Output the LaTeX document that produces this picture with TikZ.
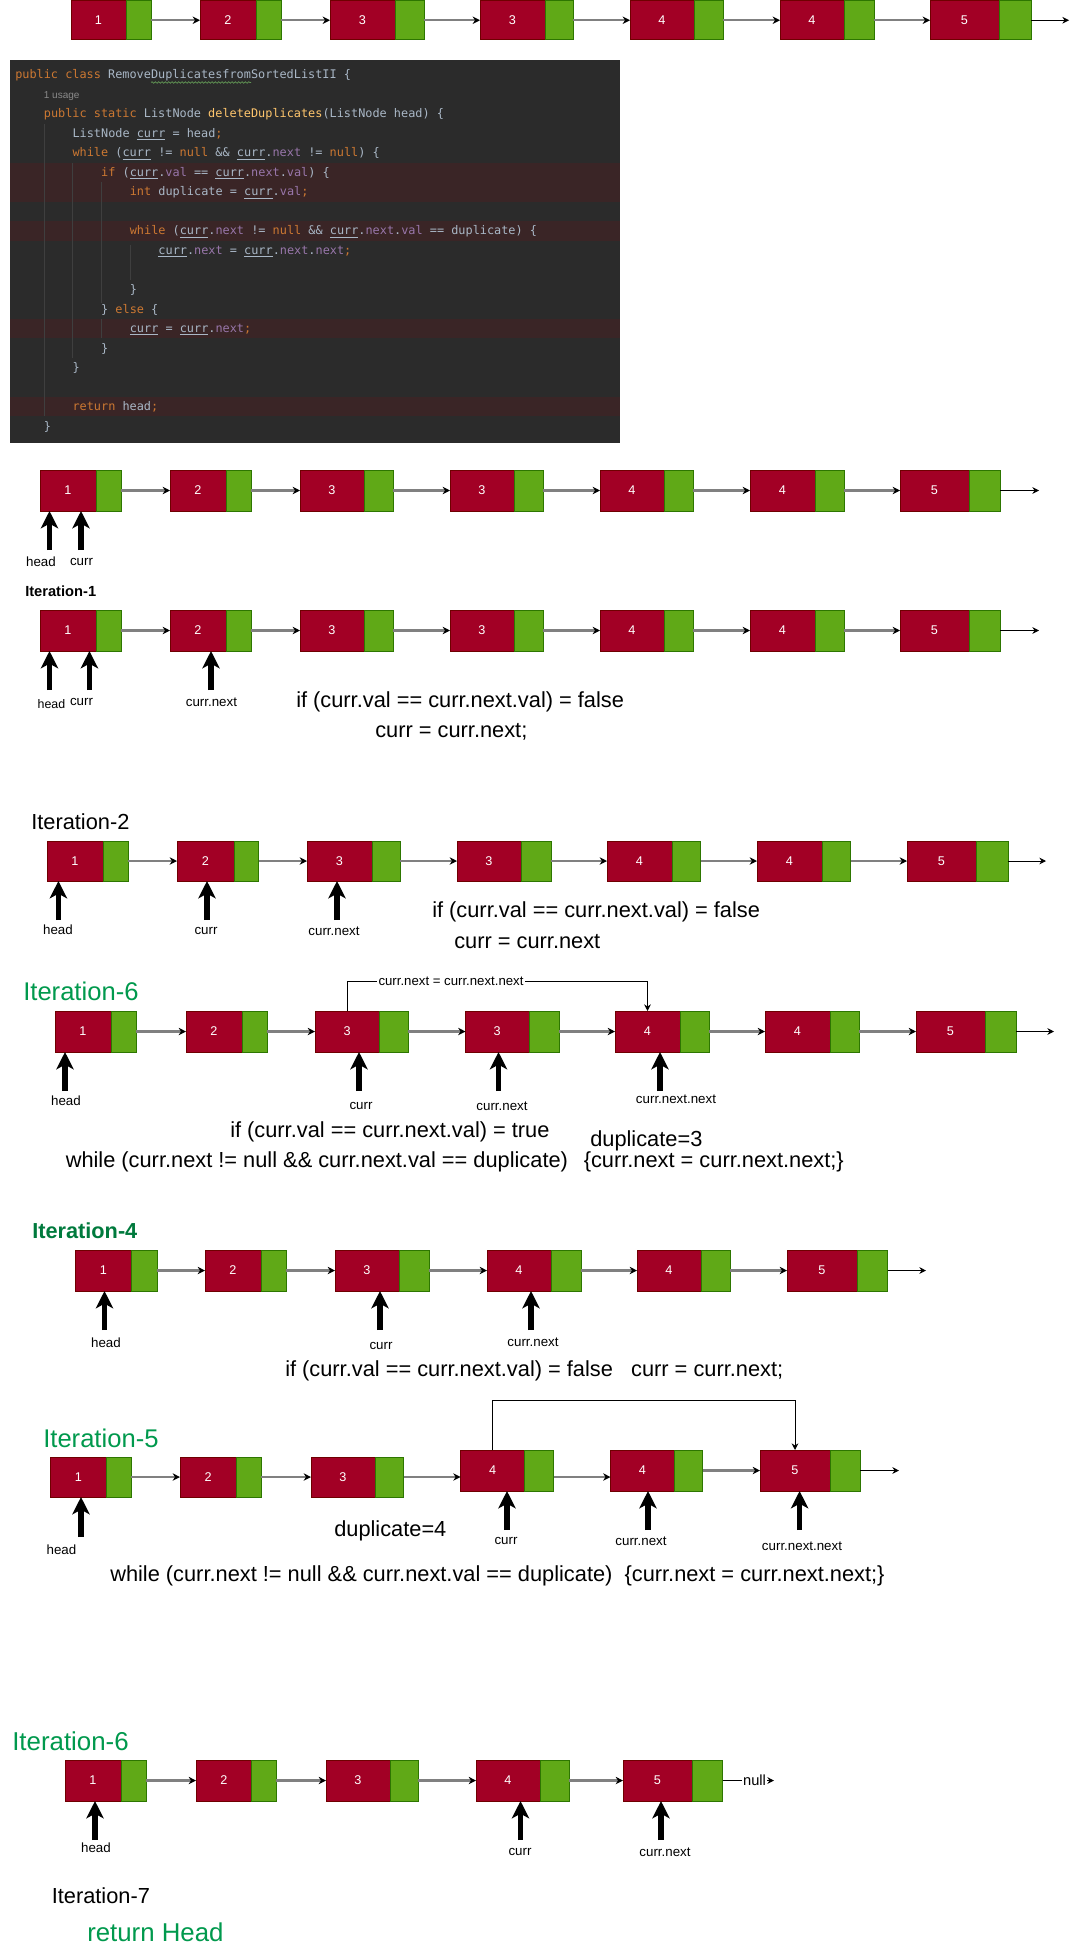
\documentclass[tikz,border=0pt]{standalone}
\usepackage{fontspec}
\setmainfont{Liberation Sans}
\newfontfamily\codefont{DejaVu Sans Mono}
\usetikzlibrary{arrows.meta,decorations.pathmorphing}
\definecolor{nred}{HTML}{A20025}
\definecolor{nredline}{HTML}{6F0000}
\definecolor{ngreen}{HTML}{60A917}
\definecolor{ngreenline}{HTML}{2D7600}
\definecolor{linkgray}{HTML}{808080}
\definecolor{itgreen}{HTML}{00994D}
\definecolor{itdgreen}{HTML}{007A3D}
\definecolor{codebg}{HTML}{2B2B2B}
\definecolor{codeband}{HTML}{3A2526}
\definecolor{ckw}{HTML}{CC7832}
\definecolor{ctxt}{HTML}{A9B7C6}
\definecolor{cfn}{HTML}{FFC66D}
\definecolor{cfld}{HTML}{9876AA}
\definecolor{cusage}{HTML}{8A8A8A}
\definecolor{cguide}{HTML}{3F3F3F}
\definecolor{ctypo}{HTML}{629755}
\newcommand\KW[1]{\textcolor{ckw}{#1}}
\newcommand\FD[1]{\textcolor{cfld}{#1}}
\newcommand\FN[1]{\textcolor{cfn}{#1}}
\newcommand\CU{\underline{curr}}
\newcommand\listnode[7]{%
  \pgfmathsetmacro\lnwa{(#3-#2)*0.75}%
  \pgfmathsetmacro\lnwb{(#4-#3)*0.75}%
  \pgfmathsetmacro\lnh{(#6-#5)*0.75}%
  \node[redbox,minimum width=\lnwa pt,minimum height=\lnh pt,anchor=north west] (#1r) at (#2,#5) {#7};
  \node[greenbox,minimum width=\lnwb pt,minimum height=\lnh pt,anchor=north west] (#1g) at (#3,#5) {};
}
\tikzset{
  redbox/.style={draw=nredline, fill=nred, line width=0.75pt, inner sep=0pt, outer sep=0pt, text=white, font=\fontsize{9.5}{11}\selectfont},
  greenbox/.style={draw=ngreenline, fill=ngreen, line width=0.75pt, inner sep=0pt, outer sep=0pt},
  link/.style={draw=linkgray, line width=1.6pt, -{Stealth[length=5.5pt,width=5.5pt,color=black]}},
  outlink/.style={draw=black, line width=0.75pt, -{Stealth[length=5pt,width=5pt]}},
  bypass/.style={draw=black, line width=0.75pt, -{Stealth[length=5pt,width=5pt]}},
  ptr/.style={draw=black, line width=4pt, -{Stealth[length=13pt,width=13pt,inset=3.5pt]}},
  lbl/.style={inner sep=0pt, font=\fontsize{10}{12}\selectfont},
  stmt/.style={inner sep=0pt, anchor=west, font=\fontsize{16.35}{19}\selectfont},
  codeline/.style={inner sep=0pt, anchor=base west, text=ctxt, font=\codefont\fontsize{8.9}{10}\selectfont},
  guide/.style={draw=cguide, line width=0.75pt},
}
\begin{document}
\begin{tikzpicture}[x=0.75pt,y=-0.75pt]
\useasboundingbox (0,0) rectangle (1078,1951);
\fill[white] (0,0) rectangle (1078,1951);

% ---------------- Row 0 ----------------
\listnode{A1}{71}{126}{151}{0.5}{40}{1}
\listnode{A2}{200}{256}{281}{0.5}{40}{2}
\listnode{A3}{330}{395}{424}{0.5}{40}{3}
\listnode{A4}{480}{545}{573}{0.5}{40}{3}
\listnode{A5}{630}{694}{723}{0.5}{40}{4}
\listnode{A6}{780}{844}{874}{0.5}{40}{4}
\listnode{A7}{930}{999}{1031}{0.5}{40}{5}
\coordinate (A8) at (1069,20.25);
\draw[link] (A1g.east) -- (A2r.west);
\draw[link] (A2g.east) -- (A3r.west);
\draw[link] (A3g.east) -- (A4r.west);
\draw[link] (A4g.east) -- (A5r.west);
\draw[link] (A5g.east) -- (A6r.west);
\draw[link] (A6g.east) -- (A7r.west);
\draw[outlink] (A7g.east) -- (A8);

% ---------------- Code block ----------------
\fill[codebg] (10,60) rectangle (620,443);
\fill[codeband] (10,162.75) rectangle (620,201.75);
\fill[codeband] (10,221.25) rectangle (620,240.75);
\fill[codeband] (10,318.75) rectangle (620,338.25);
\fill[codeband] (10,396.75) rectangle (620,416.25);
\draw[guide] (44,124) -- (44,416);
\draw[guide] (72.5,163) -- (72.5,358);
\draw[guide] (101,182) -- (101,303);
\draw[guide] (101,319) -- (101,338);
\draw[guide] (130,245) -- (130,280);
\node[codeline] (c0) at (15,79) {\KW{public class} RemoveDuplicatesfromSortedListII \{};
\draw[ctypo, line width=0.5pt, decorate, decoration={snake, amplitude=0.6pt, segment length=2.5pt}] (151,82.5) -- (251,82.5);
\node[anchor=base west, inner sep=0pt, text=cusage, font=\fontsize{7.5}{9}\selectfont] (c1) at (43.6,98.5) {1 usage};
\node[codeline] (c2) at (43.64,118) {\KW{public static} ListNode \FN{deleteDuplicates}(ListNode head) \{};
\node[codeline] (c3) at (72.28,137.5) {ListNode \CU{} = head\KW{;}};
\node[codeline] (c4) at (72.28,157) {\KW{while} (\CU{} != \KW{null} \&\& \CU.\FD{next} != \KW{null}) \{};
\node[codeline] (c5) at (100.92,176.5) {\KW{if} (\CU.\FD{val} == \CU.\FD{next}.\FD{val}) \{};
\node[codeline] (c6) at (129.56,196) {\KW{int} duplicate = \CU.\FD{val}\KW{;}};
\node[codeline] (c8) at (129.56,235) {\KW{while} (\CU.\FD{next} != \KW{null} \&\& \CU.\FD{next}.\FD{val} == duplicate) \{};
\node[codeline] (c9) at (158.2,254.5) {\CU.\FD{next} = \CU.\FD{next}.\FD{next}\KW{;}};
\node[codeline] (c11) at (129.56,293.5) {\}};
\node[codeline] (c12) at (100.92,313) {\} \KW{else} \{};
\node[codeline] (c13) at (129.56,332.5) {\CU{} = \CU.\FD{next}\KW{;}};
\node[codeline] (c14) at (100.92,352) {\}};
\node[codeline] (c15) at (72.28,371.5) {\}};
\node[codeline] (c17) at (72.28,410.5) {\KW{return} head\KW{;}};
\node[codeline] (c18) at (43.64,430) {\}};

% ---------------- Row 1 ----------------
\listnode{B1}{40}{96}{121}{470}{511}{1}
\listnode{B2}{170}{226}{251}{470}{511}{2}
\listnode{B3}{300}{364}{393}{470}{511}{3}
\listnode{B4}{450}{514}{543}{470}{511}{3}
\listnode{B5}{600}{664}{693}{470}{511}{4}
\listnode{B6}{750}{815}{844}{470}{511}{4}
\listnode{B7}{900}{969}{1000}{470}{511}{5}
\coordinate (B8) at (1039,490.5);
\draw[link] (B1g.east) -- (B2r.west);
\draw[link] (B2g.east) -- (B3r.west);
\draw[link] (B3g.east) -- (B4r.west);
\draw[link] (B4g.east) -- (B5r.west);
\draw[link] (B5g.east) -- (B6r.west);
\draw[link] (B6g.east) -- (B7r.west);
\draw[outlink] (B7g.east) -- (B8);
\coordinate (Bp1) at (49.5,550);
\coordinate (Bp2) at (81,550);
\draw[ptr] (Bp1) -- (Bp1 |- B1r.south);
\draw[ptr] (Bp2) -- (Bp2 |- B1r.south);
\node[lbl] (Bl1) at (41,562) {head};
\node[lbl] (Bl2) at (81.5,562) {curr};

% ---------------- Row 2 : Iteration-1 ----------------
\node[anchor=west, inner sep=0pt, font=\bfseries\fontsize{11}{13}\selectfont] (T1) at (25,591) {Iteration-1};
\listnode{C1}{40}{96}{121}{610}{651}{1}
\listnode{C2}{170}{226}{251}{610}{651}{2}
\listnode{C3}{300}{364}{393}{610}{651}{3}
\listnode{C4}{450}{514}{543}{610}{651}{3}
\listnode{C5}{600}{664}{693}{610}{651}{4}
\listnode{C6}{750}{815}{844}{610}{651}{4}
\listnode{C7}{900}{969}{1000}{610}{651}{5}
\coordinate (C8) at (1039,630.5);
\draw[link] (C1g.east) -- (C2r.west);
\draw[link] (C2g.east) -- (C3r.west);
\draw[link] (C3g.east) -- (C4r.west);
\draw[link] (C4g.east) -- (C5r.west);
\draw[link] (C5g.east) -- (C6r.west);
\draw[link] (C6g.east) -- (C7r.west);
\draw[outlink] (C7g.east) -- (C8);
\coordinate (Cp1) at (49.5,690);
\coordinate (Cp2) at (89.4,690);
\coordinate (Cp3) at (211,690);
\draw[ptr] (Cp1) -- (Cp1 |- C1r.south);
\draw[ptr] (Cp2) -- (Cp2 |- C1r.south);
\draw[ptr] (Cp3) -- (Cp3 |- C2r.south);
\node[lbl, font=\fontsize{9.3}{11}\selectfont] (Cl1) at (51.5,704) {head};
\node[lbl] (Cl2) at (81.5,702) {curr};
\node[lbl] (Cl3) at (211.4,702) {curr.next};
\node[stmt] (Cs1) at (296,702) {if (curr.val == curr.next.val) = false};
\node[stmt] (Cs2) at (375,732) {curr = curr.next;};

% ---------------- Row 3 : Iteration-2 ----------------
\node[anchor=west, inner sep=0pt, font=\fontsize{16.35}{19}\selectfont] (T2) at (31,822) {Iteration-2};
\listnode{D1}{47}{103}{128}{841}{881}{1}
\listnode{D2}{177}{234}{258.5}{841}{881}{2}
\listnode{D3}{307}{372}{400}{841}{881}{3}
\listnode{D4}{457}{521}{551}{841}{881}{3}
\listnode{D5}{607}{672}{700.6}{841}{881}{4}
\listnode{D6}{757}{822}{850.5}{841}{881}{4}
\listnode{D7}{907}{976}{1008}{841}{881}{5}
\coordinate (D8) at (1046,861);
\draw[link] (D1g.east) -- (D2r.west);
\draw[link] (D2g.east) -- (D3r.west);
\draw[link] (D3g.east) -- (D4r.west);
\draw[link] (D4g.east) -- (D5r.west);
\draw[link] (D5g.east) -- (D6r.west);
\draw[link] (D6g.east) -- (D7r.west);
\draw[outlink] (D7g.east) -- (D8);
\coordinate (Dp1) at (58.4,920);
\coordinate (Dp2) at (207,920);
\coordinate (Dp3) at (337,920);
\draw[ptr] (Dp1) -- (Dp1 |- D1r.south);
\draw[ptr] (Dp2) -- (Dp2 |- D2r.south);
\draw[ptr] (Dp3) -- (Dp3 |- D3r.south);
\node[lbl] (Dl1) at (58,930) {head};
\node[lbl] (Dl2) at (206,931) {curr};
\node[lbl] (Dl3) at (334,931) {curr.next};
\node[stmt] (Ds1) at (432,912) {if (curr.val == curr.next.val) = false};
\node[stmt] (Ds2) at (454,942) {curr = curr.next};

% ---------------- Row 4 : Iteration-6 (first) ----------------
\node[anchor=west, inner sep=0pt, text=itgreen, font=\fontsize{19.2}{22}\selectfont] (T3) at (23,991) {Iteration-6};
\listnode{E1}{55}{111}{136}{1011}{1052}{1}
\listnode{E2}{186}{242}{267}{1011}{1052}{2}
\listnode{E3}{315}{379.5}{408}{1011}{1052}{3}
\listnode{E4}{465.5}{529}{559}{1011}{1052}{3}
\listnode{E5}{615}{680}{709}{1011}{1052}{4}
\listnode{E6}{765}{830}{859}{1011}{1052}{4}
\listnode{E7}{916}{985}{1016}{1011}{1052}{5}
\coordinate (E8) at (1054,1031.5);
\draw[link] (E1g.east) -- (E2r.west);
\draw[link] (E2g.east) -- (E3r.west);
\draw[link] (E3g.east) -- (E4r.west);
\draw[link] (E4g.east) -- (E5r.west);
\draw[link] (E5g.east) -- (E6r.west);
\draw[link] (E6g.east) -- (E7r.west);
\draw[outlink] (E7g.east) -- (E8);
\coordinate (Ebyp) at (0,981);
\draw[bypass] (E3r.north) -- (E3r.north |- Ebyp) -- (E5r.north |- Ebyp) -- (E5r.north);
\node[inner sep=1pt, fill=white, font=\fontsize{9.9}{12}\selectfont] (Ebl) at (451,981) {curr.next = curr.next.next};
\coordinate (Ep1) at (65,1091);
\coordinate (Ep2) at (359,1091);
\coordinate (Ep3) at (498.5,1091);
\coordinate (Ep4) at (660,1091);
\draw[ptr] (Ep1) -- (Ep1 |- E1r.south);
\draw[ptr] (Ep2) -- (Ep2 |- E3r.south);
\draw[ptr] (Ep3) -- (Ep3 |- E4r.south);
\draw[ptr] (Ep4) -- (Ep4 |- E5r.south);
\node[lbl] (El1) at (66,1101) {head};
\node[lbl] (El2) at (361,1106) {curr};
\node[lbl] (El3) at (502,1106) {curr.next};
\node[lbl] (El4) at (676,1099) {curr.next.next};
\node[stmt] (Es1) at (230,1132) {if (curr.val == curr.next.val) = true};
\node[stmt] (Es2) at (590,1141) {duplicate=3};
\node[stmt] (Es3) at (65.5,1162) {while (curr.next != null \&\& curr.next.val == duplicate)};
\node[stmt] (Es4) at (583.5,1162) {\{curr.next = curr.next.next;\}};

% ---------------- Row 5 : Iteration-4 ----------------
\node[anchor=west, inner sep=0pt, text=itdgreen, font=\bfseries\fontsize{16.3}{19}\selectfont] (T4) at (32,1231) {Iteration-4};
\listnode{F1}{75.6}{131}{157}{1250}{1291}{1}
\listnode{F2}{205}{261}{286}{1250}{1291}{2}
\listnode{F3}{335}{399}{429}{1250}{1291}{3}
\listnode{F4}{487}{551}{581}{1250}{1291}{4}
\listnode{F5}{637}{701}{730}{1250}{1291}{4}
\listnode{F6}{787}{857}{887.6}{1250}{1291}{5}
\coordinate (F7) at (926,1270.5);
\draw[link] (F1g.east) -- (F2r.west);
\draw[link] (F2g.east) -- (F3r.west);
\draw[link] (F3g.east) -- (F4r.west);
\draw[link] (F4g.east) -- (F5r.west);
\draw[link] (F5g.east) -- (F6r.west);
\draw[outlink] (F6g.east) -- (F7);
\coordinate (Fp1) at (104.5,1330);
\coordinate (Fp2) at (380,1330);
\coordinate (Fp3) at (531,1330);
\draw[ptr] (Fp1) -- (Fp1 |- F1r.south);
\draw[ptr] (Fp2) -- (Fp2 |- F3r.south);
\draw[ptr] (Fp3) -- (Fp3 |- F4r.south);
\node[lbl] (Fl1) at (106,1343) {head};
\node[lbl] (Fl2) at (381,1346) {curr};
\node[lbl] (Fl3) at (533,1342) {curr.next};
\node[stmt] (Fs1) at (285,1371) {if (curr.val == curr.next.val) = false\ \ \ curr = curr.next;};

% ---------------- Row 6 : Iteration-5 ----------------
\node[anchor=west, inner sep=0pt, text=itgreen, font=\fontsize{19.2}{22}\selectfont] (T5) at (43,1438) {Iteration-5};
\listnode{G1}{50}{106.6}{131}{1457}{1497}{1}
\listnode{G2}{180}{236.5}{261}{1457}{1497}{2}
\listnode{G3}{311}{375}{403.6}{1457}{1497}{3}
\listnode{G4}{460.6}{524.6}{553.5}{1450}{1491}{4}
\listnode{G5}{610.5}{674.5}{702.6}{1450}{1491}{4}
\listnode{G6}{760}{830}{860}{1450}{1491}{5}
\coordinate (G7) at (899,1470.5);
\draw[link] (G1g.east) -- (G2r.west);
\draw[link] (G2g.east) -- (G3r.west);
\draw[link] (G3g.east) -- (G3g.east -| G4r.west);
\draw[link] (G4g.east |- G3g.east) -- (G3g.east -| G5r.west);
\draw[link] (G5g.east) -- (G6r.west);
\draw[outlink] (G6g.east) -- (G7);
\coordinate (Gbyp) at (0,1400);
\draw[bypass] (G4r.north) -- (G4r.north |- Gbyp) -- (G6r.north |- Gbyp) -- (G6r.north);
\coordinate (Gp1) at (81,1537);
\coordinate (Gp2) at (507,1530);
\coordinate (Gp3) at (648,1530);
\coordinate (Gp4) at (799.6,1530);
\draw[ptr] (Gp1) -- (Gp1 |- G1r.south);
\draw[ptr] (Gp2) -- (Gp2 |- G4r.south);
\draw[ptr] (Gp3) -- (Gp3 |- G5r.south);
\draw[ptr] (Gp4) -- (Gp4 |- G6r.south);
\node[lbl] (Gl1) at (61.5,1550) {head};
\node[lbl] (Gl2) at (506,1541) {curr};
\node[lbl] (Gl3) at (641,1541) {curr.next};
\node[lbl] (Gl4) at (802,1546) {curr.next.next};
\node[stmt] (Gs1) at (334,1531) {duplicate=4};
\node[stmt] (Gs2) at (110,1576) {while (curr.next != null \&\& curr.next.val == duplicate)\ \ \{curr.next = curr.next.next;\}};

% ---------------- Row 7 : Iteration-6 (final) ----------------
\node[anchor=west, inner sep=0pt, text=itgreen, font=\fontsize{19.4}{22}\selectfont] (T6) at (12,1741) {Iteration-6};
\listnode{H1}{65}{121}{146}{1760}{1801}{1}
\listnode{H2}{196}{251.6}{276}{1760}{1801}{2}
\listnode{H3}{326}{390}{418}{1760}{1801}{3}
\listnode{H4}{476}{540}{569}{1760}{1801}{4}
\listnode{H5}{623}{692}{722.6}{1760}{1801}{5}
\coordinate (H6) at (774,1780.5);
\draw[link] (H1g.east) -- (H2r.west);
\draw[link] (H2g.east) -- (H3r.west);
\draw[link] (H3g.east) -- (H4r.west);
\draw[link] (H4g.east) -- (H5r.west);
\draw[outlink] (H5g.east) -- (H6);
\node[inner sep=0.5pt, fill=white, font=\fontsize{11}{13}\selectfont] (Hnull) at (754.5,1780.5) {null};
\coordinate (Hp1) at (95,1840);
\coordinate (Hp2) at (520.5,1840);
\coordinate (Hp3) at (661,1840);
\draw[ptr] (Hp1) -- (Hp1 |- H1r.south);
\draw[ptr] (Hp2) -- (Hp2 |- H4r.south);
\draw[ptr] (Hp3) -- (Hp3 |- H5r.south);
\node[lbl] (Hl1) at (96,1848) {head};
\node[lbl] (Hl2) at (520,1852) {curr};
\node[lbl] (Hl3) at (665,1852) {curr.next};
\node[anchor=west, inner sep=0pt, font=\fontsize{16.35}{19}\selectfont] (T7) at (51.5,1896) {Iteration-7};
\node[anchor=west, inner sep=0pt, text=itgreen, font=\fontsize{19.35}{22}\selectfont] (T8) at (87,1932) {return Head};
\end{tikzpicture}
\end{document}
